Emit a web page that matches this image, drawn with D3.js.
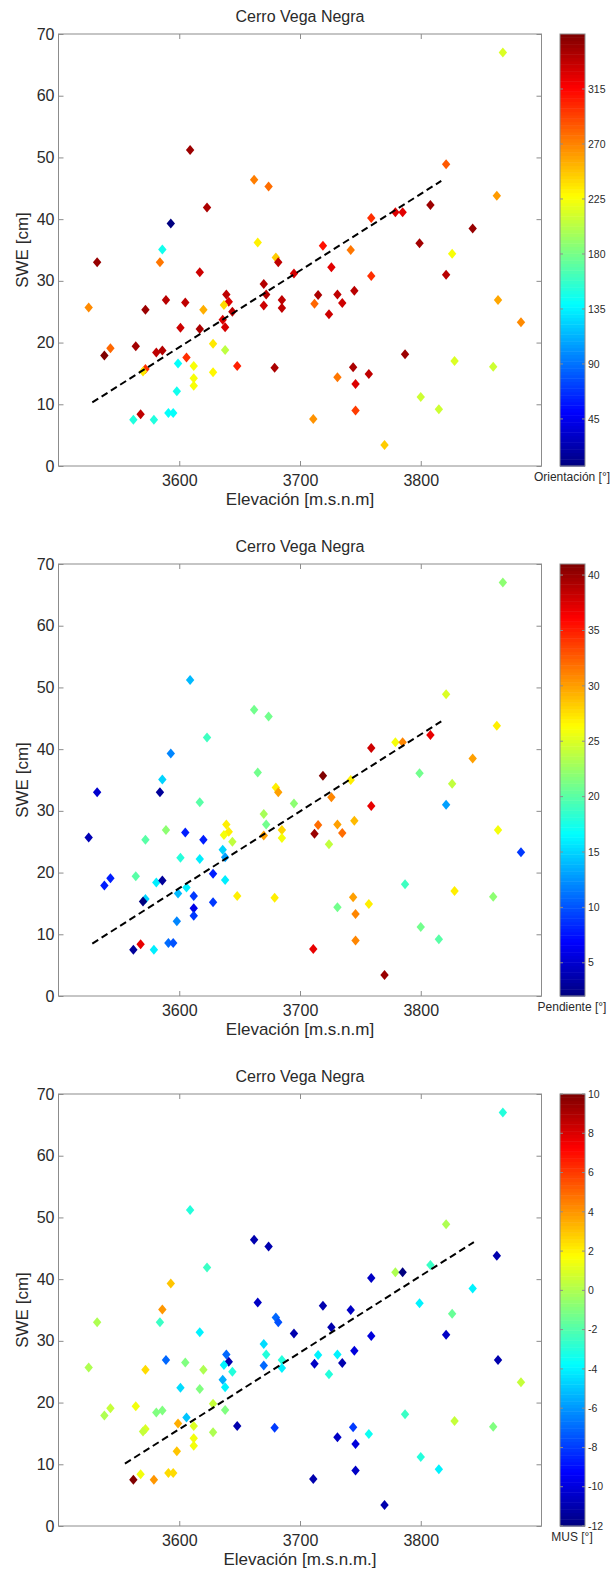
<!DOCTYPE html>
<html><head><meta charset="utf-8">
<script src="https://cdn.jsdelivr.net/npm/d3@7"></script>
<style>
body{margin:0;background:#fff;}
svg{display:block;}
text{font-family:Arial,"Liberation Sans",sans-serif;}
</style>
</head><body>
<svg id="chart" width="615" height="1572"></svg>
<script>
// ---------- data ----------
const elevation = [3532,3584,3586,3593,3609,3623,3662,3674,3665,3680,
  3682,3617,3695,3525,3572,3589,3605,3620,3639,3641,
  3637,3644,3670,3672,3670,3685,3685,3601,3617,3636,
  3638,3538,3543,3564,3581,3586,3606,3572,3570,3599,
  3612,3628,3638,3628,3612,3612,3598,3648,3679,3562,
  3568,3579,3591,3595,3711,3868,3821,3863,3808,3779,
  3785,3759,3843,3719,3742,3799,3826,3726,3759,3821,
  3715,3731,3745,3712,3735,3724,3864,3883,3787,3828,
  3860,3744,3757,3731,3746,3800,3815,3746,3770];
const swe = [33,33,35.1,39.3,51.2,41.9,46.4,45.3,36.2,33.8,
  33,31.4,31.2,25.7,25.3,26.9,26.5,25.3,27.8,26.6,
  26.1,25,29.5,27.8,26,26.9,25.6,22.4,22.2,23.7,
  22.5,17.9,19.1,19.4,18.4,18.7,17.6,15.7,15.3,16.6,
  16.2,19.8,18.8,15.2,14.2,13,12.1,16.2,15.9,7.5,
  8.4,7.5,8.6,8.6,7.6,67,48.9,43.8,42.3,41.1,
  41.1,40.2,38.5,35.7,35,36.1,34.4,32.2,30.8,31,
  27.7,27.8,28.4,26.3,26.4,24.6,26.9,23.3,18.1,17,
  16.1,16,14.9,14.4,13.3,11.2,9.2,9,3.4];
const orientation = [352,275,145,6.5,350,345,272,278,232,245,
  338,333,330,268,350,340,338,255,338,328,
  240,340,342,342,333,338,338,333,345,328,
  330,360,280,348,338,342,300,300,235,140,
  225,235,205,230,225,225,145,305,345,150,
  338,150,140,140,265,215,285,262,350,328,
  326,300,352,310,275,348,225,326,300,340,
  345,338,340,280,333,333,258,268,350,215,
  210,345,338,275,328,210,210,295,245];
const slope = [5,3,15,12,14,19,21,21,21,27,
  30,20,22,4,20,22,8,8,27,27,
  26,24,23,21,30,28,26,18,16,15,
  13,8,8,20,16,3,16,15,2,14,
  9,8,16,9,6,9,12,27,27,3,
  37,16,11,10,37,22,25,27,37,26,
  31,38,30,41,27,21,24,31,37,13,
  32,30,29,40,32,24,26,9,19,27,
  22,30,27,21,31,21,20,31,40];
const mus = [0,-2.5,4,3,-3,-2.5,-11,-11,-10.5,-7,
  -7.5,-4,-11,0,2.5,-7,-1,0,-7,-11,
  -4,-3,-4.5,-3,-7,-3,-4,-4.5,-1,-5.5,
  -4,0,0.5,1.5,-1,-1,-5,1,0.5,3.5,
  1,0.5,-1,0,1.5,1.5,3,-11,-8,10,
  1.5,4,2.5,2.5,-11,-3,0,-11,-2.5,0,
  -12,-10.5,-4,-11,-10.5,-4,-1.5,-11,-10,-10.5,
  -4,-4,-10,-10.5,-11,-3,-11,0.5,-2.5,0.5,
  -1,-8,-3.5,-10.5,-10,-3,-4,-10.5,-11];

const xTicks = [3600,3700,3800];
const yTicks = [0,10,20,30,40,50,60,70];
const orientTicks = [45,90,135,180,225,270,315];
const slopeTicks = [5,10,15,20,25,30,35,40];
const musTicks = [-12,-10,-8,-6,-4,-2,0,2,4,6,8,10];
const orientRange = [6.5,360];
const slopeRange = [2,41];
const musRange = [-12,10];

const fitElev1 = [3528,3817], fitSwe1 = [10.3,46.2];
const fitElev2 = [3528,3817], fitSwe2 = [8.5,44.5];
const fitElev3 = [3555,3844], fitSwe3 = [10.1,46.0];

const titleText = "Cerro Vega Negra";
const yLabel = "SWE [cm]";
const xLabels = ["Elevación [m.s.n.m]","Elevación [m.s.n.m]","Elevación [m.s.n.m.]"];
const cbLabels = ["Orientación [°]","Pendiente [°]","MUS [°]"];

// ---------- helpers ----------
function jet(t){
  t = Math.max(0,Math.min(1,t));
  const c = v => Math.round(255*Math.max(0,Math.min(1,v)));
  return `rgb(${c(1.5-Math.abs(4*t-3))},${c(1.5-Math.abs(4*t-2))},${c(1.5-Math.abs(4*t-1))})`;
}

const svg = d3.select("#chart");
const L = 58.5, R = 541.5, T = 34, B = 466;
const x = d3.scaleLinear().domain([3500,3900]).range([L,R]);
const axisCol = "#8c8c8c", textCol = "#2a2a2a";

function panel(off, values, range, cTicks, cbLabel, xLab, fx, fy){
  const g = svg.append("g").attr("transform",`translate(0,${off})`);
  const y = d3.scaleLinear().domain([0,70]).range([B,T]);
  const c = d3.scaleLinear().domain(range).range([0,1]);

  g.append("rect").attr("x",L).attr("y",T).attr("width",R-L).attr("height",B-T)
    .attr("fill","#fff").attr("stroke",axisCol).attr("stroke-width",1);

  const styleAxis = sel => {
    sel.select(".domain").remove();
    sel.selectAll("line").attr("stroke",axisCol);
    sel.selectAll("text").attr("fill",textCol).style("font-size","16px")
      .style("font-family","Arial, 'Liberation Sans', sans-serif");
  };
  g.append("g").attr("transform",`translate(0,${B})`)
    .call(d3.axisBottom(x).tickValues(xTicks).tickSize(-5).tickSizeOuter(0).tickPadding(9).tickFormat(d3.format("d")))
    .call(styleAxis);
  g.append("g").attr("transform",`translate(0,${T})`)
    .call(d3.axisTop(x).tickValues(xTicks).tickSize(-5).tickSizeOuter(0).tickFormat(""))
    .call(styleAxis);
  g.append("g").attr("transform",`translate(${L},0)`)
    .call(d3.axisLeft(y).tickValues(yTicks).tickSize(-5).tickSizeOuter(0).tickPadding(4))
    .call(styleAxis);
  g.append("g").attr("transform",`translate(${R},0)`)
    .call(d3.axisRight(y).tickValues(yTicks).tickSize(-5).tickSizeOuter(0).tickFormat(""))
    .call(styleAxis);

  // points
  const rx = 4.2, ry = 5;
  const diamond = `M0,${-ry}L${rx},0L0,${ry}L${-rx},0Z`;
  g.append("g").selectAll("path").data(elevation.map((e,i)=>({e, s:swe[i], v:values[i]})))
    .join("path")
    .attr("d",diamond)
    .attr("transform",d=>`translate(${x(d.e)},${y(d.s)})`)
    .attr("fill",d=>jet(c(d.v)));

  // fit line
  g.append("path")
    .attr("d",d3.line()([[x(fx[0]),y(fy[0])],[x(fx[1]),y(fy[1])]]))
    .attr("stroke","#000").attr("stroke-width",2).attr("stroke-dasharray","7,4").attr("fill","none");

  // title & labels
  g.append("text").attr("x",(L+R)/2).attr("y",21.5).attr("text-anchor","middle")
    .attr("fill",textCol).style("font-size","16px").text(titleText);
  g.append("text").attr("x",(L+R)/2).attr("y",505).attr("text-anchor","middle")
    .attr("fill",textCol).style("font-size","17px").text(xLab);
  g.append("text").attr("transform",`translate(27.5,${(T+B)/2}) rotate(-90)`).attr("text-anchor","middle")
    .attr("fill",textCol).style("font-size","17px").text(yLabel);

  // colorbar
  const cx0 = 560, cx1 = 585;
  const cy = d3.scaleLinear().domain(range).range([B,T]);
  const n = 128;
  const cb = g.append("g");
  d3.range(n).forEach(i=>{
    const v0 = range[0] + (range[1]-range[0])*i/n;
    const v1 = range[0] + (range[1]-range[0])*(i+1)/n;
    cb.append("rect").attr("x",cx0).attr("width",cx1-cx0)
      .attr("y",cy(v1)).attr("height",cy(v0)-cy(v1)+0.5)
      .attr("fill",jet((i+0.5)/n));
  });
  cb.append("rect").attr("x",cx0).attr("y",T).attr("width",cx1-cx0).attr("height",B-T)
    .attr("fill","none").attr("stroke",axisCol).attr("stroke-width",1);
  const ct = g.append("g").selectAll("g").data(cTicks).join("g")
    .attr("transform",d=>`translate(0,${cy(d)})`);
  ct.append("line").attr("x1",cx1-3).attr("x2",cx1).attr("stroke",axisCol);
  ct.append("line").attr("x1",cx0).attr("x2",cx0+3).attr("stroke",axisCol);
  ct.append("text").attr("x",cx1+3).attr("dy","0.35em").attr("fill",textCol)
    .style("font-size","10.5px").text(d=>d);
  g.append("text").attr("x",572).attr("y",481).attr("text-anchor","middle")
    .attr("fill",textCol).style("font-size","12px").text(cbLabel);
}

panel(0, orientation, orientRange, orientTicks, cbLabels[0], xLabels[0], fitElev1, fitSwe1);
panel(530, slope, slopeRange, slopeTicks, cbLabels[1], xLabels[1], fitElev2, fitSwe2);
panel(1060, mus, musRange, musTicks, cbLabels[2], xLabels[2], fitElev3, fitSwe3);
</script>
</body></html>
